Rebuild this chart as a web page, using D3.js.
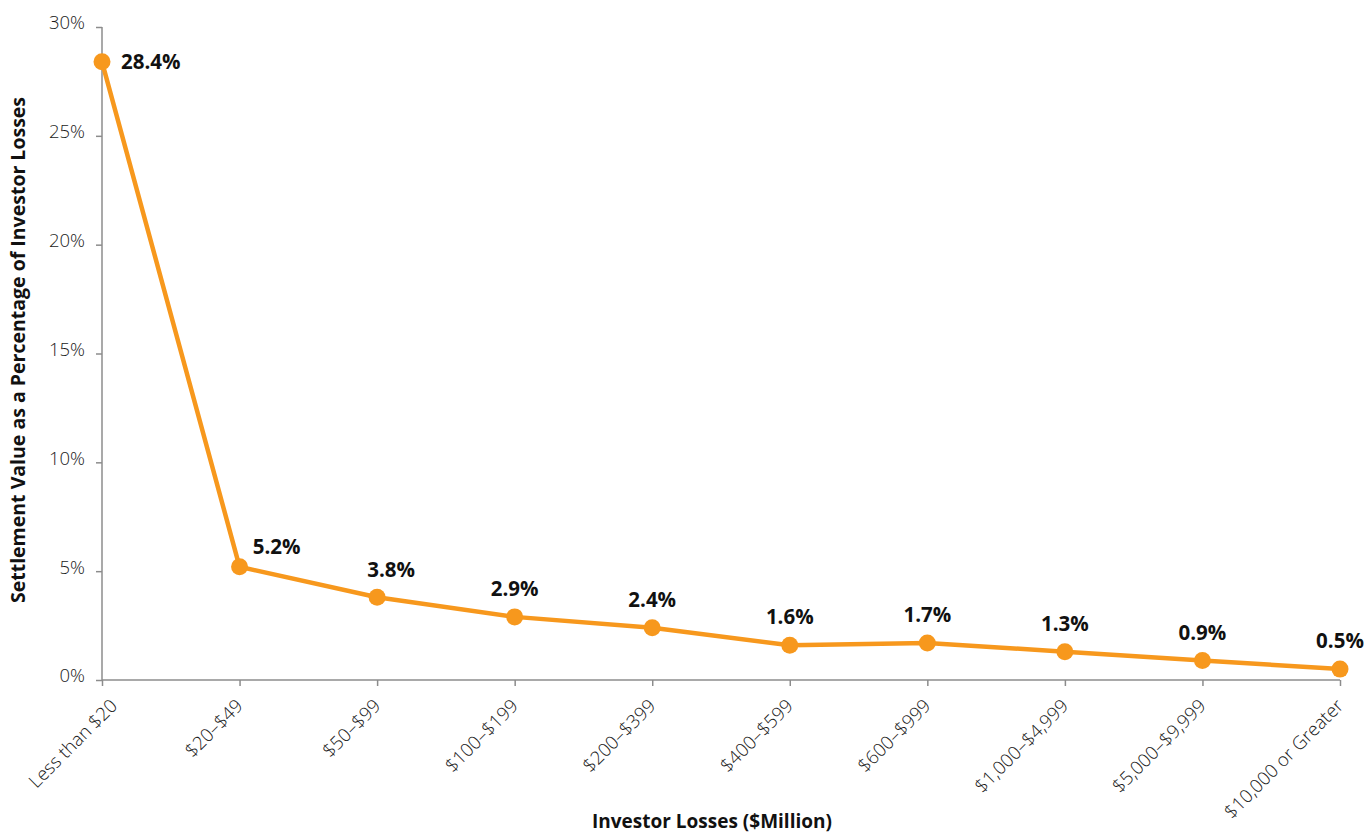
<!DOCTYPE html>
<html>
<head>
<meta charset="utf-8">
<script src="https://cdn.jsdelivr.net/npm/d3@7"></script>
<style>
  body { margin: 0; background: #fff; }
  svg { display: block; font-family: "Open Sans", "DejaVu Sans", sans-serif; }
  .axis path, .axis line { stroke: #8c8c8c; stroke-width: 1.5; }
  .axis text { fill: #1a1a1a; font-size: 18.5px; font-weight: 300; font-family: "Open Sans", "DejaVu Sans", sans-serif; }
</style>
</head>
<body>
<div id="chart"></div>
<script>
// data
var categories = ["Less than $20", "$20–$49", "$50–$99", "$100–$199", "$200–$399",
    "$400–$599", "$600–$999", "$1,000–$4,999", "$5,000–$9,999", "$10,000 or Greater"];
var values = [28.4, 5.2, 3.8, 2.9, 2.4, 1.6, 1.7, 1.3, 0.9, 0.5];
var yTicks = [0, 5, 10, 15, 20, 25, 30];

// label nudges (layout only)
var labelDx = [19, 37, 14, 0, 0, 0, 0, 0, 0, 0];
var labelDy = [0, -20, -27, -28, -28, -28, -28, -28, -28, -28];

var svgWidth = 1365;
var svgHeight = 836;
var margin = { top: 27, right: 25, bottom: 156, left: 102 };
var width = 1340 - margin.left;
var height = 680 - margin.top;

var svg = d3.select("#chart")
    .append("svg")
    .attr("width", svgWidth)
    .attr("height", svgHeight);

var chartGroup = svg.append("g")
    .attr("transform", `translate(${margin.left}, ${margin.top})`);

var xScale = d3.scalePoint()
    .domain(categories)
    .range([0, width]);

var yScale = d3.scaleLinear()
    .domain([0, 30])
    .range([height, 0]);

// y axis
var yAxis = chartGroup.append("g")
    .attr("class", "axis")
    .call(d3.axisLeft(yScale).tickValues(yTicks).tickSize(6).tickPadding(11).tickFormat(d => d + "%"));
yAxis.select(".domain").attr("d", `M0,${height}V0`);
yAxis.selectAll("text").attr("dy", "0.1em");

// x axis
var xAxis = chartGroup.append("g")
    .attr("class", "axis")
    .attr("transform", `translate(0, ${height})`)
    .call(d3.axisBottom(xScale).tickSize(6));
xAxis.select(".domain").attr("d", `M0,0H${width}`);
xAxis.selectAll("text")
    .attr("text-anchor", "end")
    .attr("transform", (d, i) => i === 0 ? "translate(16, 27) rotate(-45)" : "translate(4, 27) rotate(-45)")
    .attr("x", 0)
    .attr("y", 0)
    .attr("dy", 0);

// line
var line = d3.line()
    .x((d, i) => xScale(categories[i]))
    .y(d => yScale(d));

chartGroup.append("path")
    .datum(values)
    .attr("fill", "none")
    .attr("stroke", "#F7981D")
    .attr("stroke-width", 4.5)
    .attr("stroke-linejoin", "round")
    .attr("d", line);

chartGroup.selectAll("circle.pt")
    .data(values)
    .enter()
    .append("circle")
    .classed("pt", true)
    .attr("cx", (d, i) => xScale(categories[i]))
    .attr("cy", d => yScale(d))
    .attr("r", 8.5)
    .attr("fill", "#F7981D");

// value labels
chartGroup.selectAll("text.val")
    .data(values)
    .enter()
    .append("text")
    .classed("val", true)
    .attr("x", (d, i) => xScale(categories[i]) + labelDx[i])
    .attr("y", (d, i) => yScale(d) + labelDy[i])
    .attr("dy", "0.35em")
    .attr("text-anchor", (d, i) => i === 0 ? "start" : "middle")
    .style("font-size", "20.5px")
    .style("font-weight", "bold")
    .style("fill", "#111")
    .text(d => d.toFixed(1) + "%");

// axis titles
svg.append("text")
    .attr("transform", `translate(25, 350) rotate(-90)`)
    .attr("text-anchor", "middle")
    .style("font-size", "19.5px")
    .style("font-weight", "bold")
    .style("fill", "#111")
    .text("Settlement Value as a Percentage of Investor Losses");

svg.append("text")
    .attr("x", 712)
    .attr("y", 828)
    .attr("text-anchor", "middle")
    .style("font-size", "19px")
    .style("font-weight", "bold")
    .style("fill", "#111")
    .text("Investor Losses ($Million)");
</script>
</body>
</html>
